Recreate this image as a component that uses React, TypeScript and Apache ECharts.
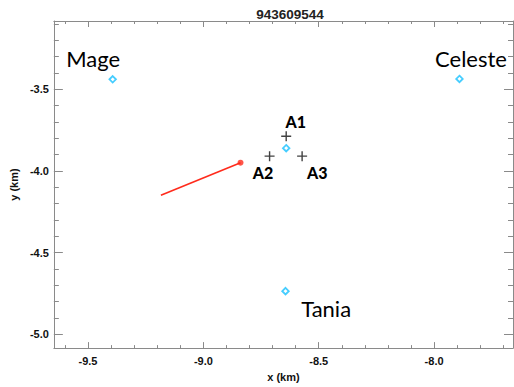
import React, { useEffect, useRef } from "react";
import * as echarts from "echarts";

const TITLE = "943609544";
const X_MAJOR = [-9.5, -9.0, -8.5, -8.0];
const X_MINOR = [-9.6, -9.4, -9.3, -9.2, -9.1, -8.9, -8.8, -8.7, -8.6, -8.4, -8.3, -8.2, -8.1, -7.9, -7.8, -7.7];
const Y_MAJOR = [-5.0, -4.5, -4.0, -3.5];
const Y_MINOR = [-5.1, -4.9, -4.8, -4.7, -4.6, -4.4, -4.3, -4.2, -4.1, -3.9, -3.8, -3.7, -3.6, -3.4, -3.3, -3.2, -3.1];
const X_RANGE = [-9.648, -7.658];
const Y_RANGE = [-5.085, -3.081];

// stations (cyan diamonds)
const STATION_NAMES = ["Mage", "Celeste", "Tania", "Centre"];
const STATION_X = [-9.393, -7.89, -8.644, -8.641];
const STATION_Y = [-3.438, -3.436, -4.736, -3.86];

// station labels
const STATION_LABELS = ["Mage", "Celeste", "Tania"];
const STATION_LABEL_X = [-9.4775, -7.84, -8.468];
const STATION_LABEL_Y = [-3.31, -3.313, -4.841];

// antennas (black plus)
const ANT_NAMES = ["A1", "A2", "A3"];
const ANT_X = [-8.641, -8.713, -8.572];
const ANT_Y = [-3.787, -3.909, -3.909];
const ANT_LABEL_X = [-8.6, -8.741, -8.506];
const ANT_LABEL_Y = [-3.699, -4.01, -4.01];

// red track
const TRACK_X = [-9.184, -8.839];
const TRACK_Y = [-4.148, -3.949];

const AXIS_COLOR = "#8a8a8a";

export default function App() {
  const ref = useRef<HTMLDivElement>(null);
  useEffect(() => {
    if (!ref.current) return;
    const chart = echarts.init(ref.current, undefined, { renderer: "svg" });
    const labelFont = {
      fontFamily: "Liberation Sans, Arial, sans-serif",
      fontWeight: "bold" as const,
      fontSize: 11,
      color: "#111",
    };
    const mkX = (position: string, ticks: number[], len: number, main: boolean, showLine: boolean) => ({
      type: "value",
      position,
      min: X_RANGE[0],
      max: X_RANGE[1],
      offset: 0,
      splitLine: { show: false },
      axisLine: { show: showLine, onZero: false, lineStyle: { color: AXIS_COLOR, width: 1 } },
      axisTick: { show: true, inside: true, length: len, customValues: ticks, lineStyle: { color: AXIS_COLOR, width: 1 } },
      axisLabel: main
        ? { show: true, customValues: X_MAJOR, margin: 7, formatter: (v: number) => v.toFixed(1), ...labelFont }
        : { show: false },
      name: main ? "x (km)" : "",
      nameLocation: "middle",
      nameGap: 22,
      nameTextStyle: { ...labelFont },
    });
    const mkY = (position: string, ticks: number[], len: number, main: boolean, showLine: boolean) => ({
      type: "value",
      position,
      min: Y_RANGE[0],
      max: Y_RANGE[1],
      offset: 0,
      splitLine: { show: false },
      axisLine: { show: showLine, onZero: false, lineStyle: { color: AXIS_COLOR, width: 1 } },
      axisTick: { show: true, inside: true, length: len, customValues: ticks, lineStyle: { color: AXIS_COLOR, width: 1 } },
      axisLabel: main
        ? { show: true, customValues: Y_MAJOR, margin: 5, formatter: (v: number) => v.toFixed(1), ...labelFont }
        : { show: false },
      name: main ? "y (km)" : "",
      nameLocation: "middle",
      nameGap: 30,
      nameTextStyle: { ...labelFont },
    });
    const toPts = (xs: number[], ys: number[]) => xs.map((x, i) => [x, ys[i]]);
    chart.setOption({
      animation: false,
      title: {
        text: TITLE,
        left: 285,
        textAlign: "center",
        top: 2,
        textStyle: { fontFamily: "Liberation Sans, Arial, sans-serif", fontWeight: "bold", fontSize: 13.5, color: "#222" },
      },
      grid: { left: 53, top: 21, right: 1, bottom: 37, containLabel: false },
      xAxis: [
        mkX("bottom", X_MAJOR, 6, true, true),
        mkX("top", X_MAJOR, 6, false, true),
        mkX("bottom", X_MINOR, 3, false, false),
        mkX("top", X_MINOR, 3, false, false),
      ],
      yAxis: [
        mkY("left", Y_MAJOR, 9, true, true),
        mkY("right", Y_MAJOR, 9, false, true),
        mkY("left", Y_MINOR, 5, false, false),
        mkY("right", Y_MINOR, 5, false, false),
      ],
      series: [
        {
          type: "line",
          data: toPts(TRACK_X, TRACK_Y),
          symbol: "none",
          lineStyle: { color: "#ff2b1c", width: 1.6 },
          z: 3,
        },
        {
          type: "scatter",
          data: [[TRACK_X[1], TRACK_Y[1]]],
          symbol: "circle",
          symbolSize: 6,
          itemStyle: { color: "#ff2b1c" },
          z: 4,
        },
        {
          type: "scatter",
          name: "stations",
          data: STATION_NAMES.map((n, i) => ({ name: n, value: [STATION_X[i], STATION_Y[i]] })),
          symbol: "diamond",
          symbolSize: 6.5,
          itemStyle: { color: "#ffffff", borderColor: "#17c0ff", borderWidth: 1.8 },
          z: 5,
        },
        {
          type: "scatter",
          name: "antennas",
          data: ANT_NAMES.map((n, i) => ({ name: n, value: [ANT_X[i], ANT_Y[i]] })),
          symbol: "path://M0,5L10,5M5,0L5,10",
          symbolSize: 10,
          itemStyle: { color: "transparent", borderColor: "#111", borderWidth: 1.4 },
          z: 5,
        },
        {
          type: "scatter",
          data: STATION_LABELS.map((n, i) => ({ name: n, value: [STATION_LABEL_X[i], STATION_LABEL_Y[i]] })),
          symbolSize: 1,
          itemStyle: { color: "transparent" },
          label: {
            show: true,
            position: "inside",
            formatter: (p: any) => p.name,
            fontFamily: "Lato, 'Open Sans', sans-serif",
            fontSize: 22,
            color: "#000",
            textBorderWidth: 0,
            opacity: 1,
          },
          z: 6,
        },
        {
          type: "scatter",
          data: ANT_NAMES.map((n, i) => ({ name: n, value: [ANT_LABEL_X[i], ANT_LABEL_Y[i]] })),
          symbolSize: 1,
          itemStyle: { color: "transparent" },
          label: {
            show: true,
            position: "inside",
            formatter: (p: any) => p.name,
            fontFamily: "Lato, 'Open Sans', sans-serif",
            fontWeight: 900,
            fontSize: 16,
            color: "#000",
            textBorderWidth: 0,
            opacity: 1,
          },
          z: 6,
        },
      ],
    });
    return () => chart.dispose();
  }, []);
  return <div ref={ref} style={{ width: 514, height: 387, position: "absolute", left: 0, top: 0 }} />;
}
